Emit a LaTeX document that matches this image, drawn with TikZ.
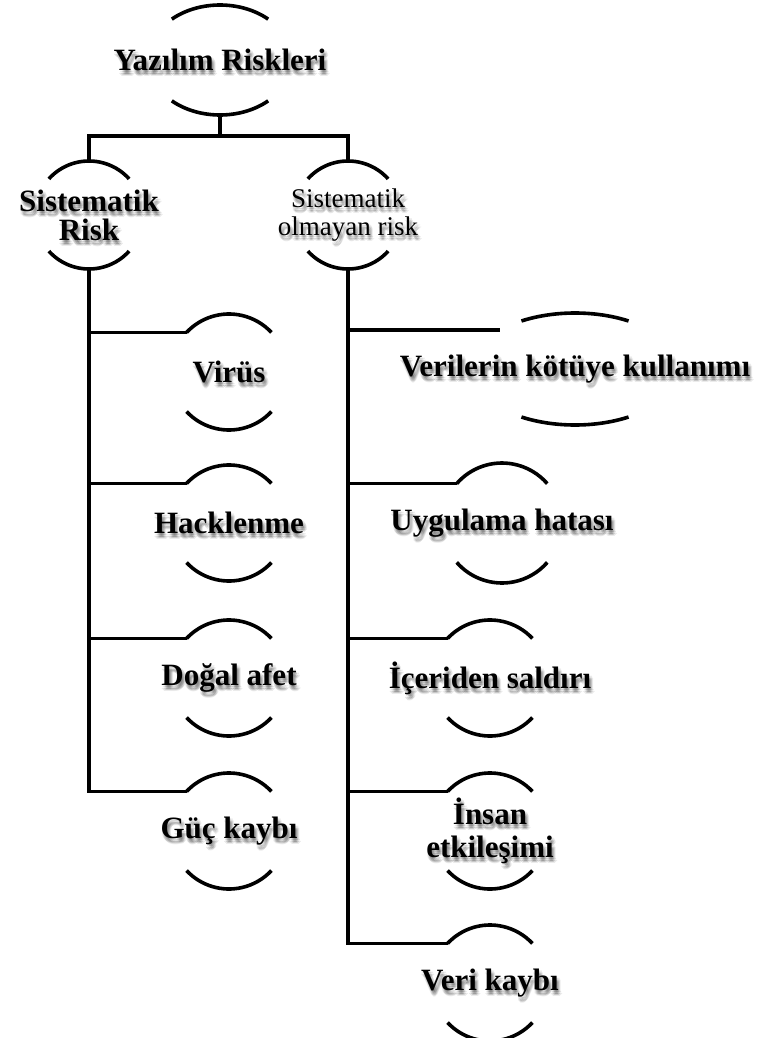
\documentclass[tikz,border=0pt]{standalone}
\usepackage{fontspec}
\setmainfont{Liberation Serif}
\usetikzlibrary{calc}

% label with a soft drop shadow: #1 name, #2 position, #3 style, #4 text
\newcommand\shlabel[4]{%
  \coordinate (#1-c) at #2;
  \foreach \dx/\dy [count=\k] in {1/2,3/2,2/4,1/5,3/5,2/6,4/4,0/4}{%
    \node[#3,shadowtxt] (#1-s\k) at ([shift={(\dx,\dy)}]#1-c) {#4};}
  \node[#3] (#1) at (#1-c) {#4};
}
% upper and lower arcs of an elliptic frame: #1 node, #2 x radius, #3 y radius, #4 half-gap angle
\newcommand\framearcs[4]{%
  \draw[arcline] ([shift={(180+#4:#2 and #3)}]#1.center)
    arc[start angle=180+#4, end angle=360-#4, x radius=#2, y radius=#3];
  \draw[arcline] ([shift={(180-#4:#2 and #3)}]#1.center)
    arc[start angle=180-#4, end angle=#4, x radius=#2, y radius=#3];
}

\begin{document}
\begin{tikzpicture}[x=1pt,y=-1pt,
  conn/.style={line width=3.6pt, line join=miter},
  arcline/.style={line width=3.6pt},
  lbl/.style={font=\bfseries\fontsize{31}{33}\selectfont, align=center, inner sep=0pt},
  lblreg/.style={font=\fontsize{27}{28}\selectfont, align=center, inner sep=0pt},
  shadowtxt/.style={text=black, text opacity=0.08}]
\useasboundingbox (0,0) rectangle (778,1038);

% root
\shlabel{root}{(220,60)}{lbl}{Yazılım Riskleri}
\framearcs{root}{72}{55}{48}

% second level
\shlabel{sr}{(89,215)}{lbl,font=\bfseries\fontsize{31}{29}\selectfont}{Sistematik\\Risk}
\framearcs{sr}{54}{54}{42}
\shlabel{snr}{(348,215)}{lblreg}{Sistematik\\olmayan risk}
\framearcs{snr}{54}{54}{42}

% systematic risks
\shlabel{virus}{(229,372)}{lbl}{Virüs}
\framearcs{virus}{58}{58}{43}
\shlabel{hack}{(229,523)}{lbl}{Hacklenme}
\framearcs{hack}{58}{58}{43}
\shlabel{afet}{(229,678)}{lbl}{Doğal afet}
\framearcs{afet}{58}{58}{43}
\shlabel{guc}{(229,831)}{lbl}{Güç kaybı}
\framearcs{guc}{58}{58}{43}

% unsystematic risks
\shlabel{kotu}{(575,369)}{lbl}{Verilerin kötüye kullanımı}
\framearcs{kotu}{104}{56}{59}
\shlabel{uyg}{(502,523)}{lbl}{Uygulama hatası}
\framearcs{uyg}{60}{60}{41}
\shlabel{ic}{(490,678)}{lbl}{İçeriden saldırı}
\framearcs{ic}{58}{58}{43}
\shlabel{insan}{(490,831)}{lbl}{İnsan\\etkileşimi}
\framearcs{insan}{58}{58}{43}
\shlabel{veri}{(490,983)}{lbl}{Veri kaybı}
\framearcs{veri}{58}{58}{43}

% attachment points on the frames (y grows downwards)
\coordinate (root-b) at ([shift={(0,55)}]root.center);
\coordinate (bar) at (0,136);
\coordinate (sr-t) at ([shift={(0,-54)}]sr.center);
\coordinate (sr-b) at ([shift={(0,54)}]sr.center);
\coordinate (snr-t) at ([shift={(0,-54)}]snr.center);
\coordinate (snr-b) at ([shift={(0,54)}]snr.center);
\foreach \n in {virus,hack,afet,guc,ic,insan,veri}
  \coordinate (\n-l) at ([shift={(223:58)}]\n.center);
\coordinate (uyg-l) at ([shift={(221:60)}]uyg.center);
\coordinate (kotu-l) at ([shift={(224:104 and 56)}]kotu.center);

% connectors
\draw[conn] (root-b) -- (root-b |- bar);
\draw[conn] (sr-t) -- (sr-t |- bar) -| (snr-t);
\foreach \n in {virus,hack,afet,guc}
  \draw[conn] (sr-b) |- (\n-l);
\foreach \n in {kotu,uyg,ic,insan,veri}
  \draw[conn] (snr-b) |- (\n-l);
\end{tikzpicture}
\end{document}
